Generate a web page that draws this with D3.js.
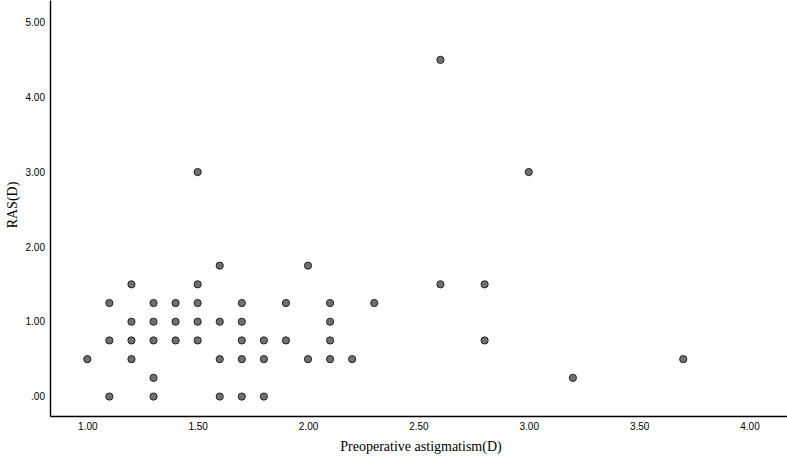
<!DOCTYPE html>
<html>
<head>
<meta charset="utf-8">
<script src="https://cdn.jsdelivr.net/npm/d3@7"></script>
<style>
  body { margin: 0; background: #fff; }
  .tick text { font-family: "Liberation Sans", Arial, sans-serif; font-size: 10px; fill: #000; }
  .title { font-family: "Liberation Serif", "Times New Roman", serif; font-size: 14px; fill: #000; }
</style>
</head>
<body>
<script>
// Preoperative astigmatism (D) vs RAS (D)
const preop = [1.0, 1.1, 1.1, 1.1, 1.2, 1.2, 1.2, 1.2, 1.3, 1.3, 1.3, 1.3, 1.3,
  1.4, 1.4, 1.4, 1.5, 1.5, 1.5, 1.5, 1.5, 1.6, 1.6, 1.6, 1.6,
  1.7, 1.7, 1.7, 1.7, 1.7, 1.8, 1.8, 1.8, 1.9, 1.9, 2.0, 2.0,
  2.1, 2.1, 2.1, 2.1, 2.2, 2.3, 2.6, 2.6, 2.8, 2.8, 3.0, 3.2, 3.7];
const ras = [0.5, 1.25, 0.75, 0, 1.5, 1.0, 0.75, 0.5, 1.25, 1.0, 0.75, 0.25, 0,
  1.25, 1.0, 0.75, 3.0, 1.5, 1.25, 1.0, 0.75, 1.75, 1.0, 0.5, 0,
  1.25, 1.0, 0.75, 0.5, 0, 0.75, 0.5, 0, 1.25, 0.75, 1.75, 0.5,
  1.25, 1.0, 0.75, 0.5, 0.5, 1.25, 4.5, 1.5, 1.5, 0.75, 3.0, 0.25, 0.5];
const xTicks = [1.0, 1.5, 2.0, 2.5, 3.0, 3.5, 4.0];
const yTicks = [0, 1, 2, 3, 4, 5];

const W = 787, H = 461;
const left = 50, bottom = 416;

const svg = d3.select("body").append("svg")
  .attr("width", W)
  .attr("height", H);

const x = d3.scaleLinear().domain([0.831, 4.17]).range([left, W]);
const y = d3.scaleLinear().domain([-0.26, 5.3]).range([bottom, 0]);

const fmt = d => d === 0 ? ".00" : d3.format(".2f")(d);

// x axis
const xAxis = svg.append("g")
  .attr("transform", `translate(0,${bottom})`)
  .call(d3.axisBottom(x).tickValues(xTicks).tickFormat(d3.format(".2f"))
    .tickSize(0).tickPadding(7));
xAxis.select(".domain").attr("stroke", "#000").attr("stroke-width", 1.4);

// y axis
const yAxis = svg.append("g")
  .attr("transform", `translate(${left},0)`)
  .call(d3.axisLeft(y).tickValues(yTicks).tickFormat(fmt)
    .tickSize(0).tickPadding(5));
yAxis.select(".domain").attr("stroke", "#000").attr("stroke-width", 1.4);

// points
svg.append("g").selectAll("circle")
  .data(preop.map((p, i) => ({ p: p, r: ras[i] })))
  .join("circle")
  .attr("cx", d => x(d.p))
  .attr("cy", d => y(d.r))
  .attr("r", 3.6)
  .attr("fill", "#707070")
  .attr("stroke", "#222")
  .attr("stroke-width", 1);

// axis titles
svg.append("text")
  .attr("class", "title")
  .attr("x", 421)
  .attr("y", 451)
  .attr("text-anchor", "middle")
  .text("Preoperative astigmatism(D)");

svg.append("text")
  .attr("class", "title")
  .attr("transform", "translate(17,205) rotate(-90)")
  .attr("text-anchor", "middle")
  .text("RAS(D)");
</script>
</body>
</html>
